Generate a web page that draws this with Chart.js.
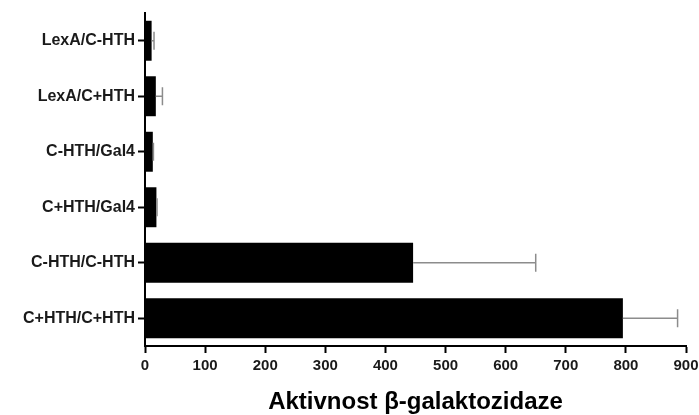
<!DOCTYPE html>
<html>
<head>
<meta charset="utf-8">
<script src="https://cdn.jsdelivr.net/npm/chart.js@4.4.1/dist/chart.umd.min.js"></script>
<style>
  html, body { margin: 0; padding: 0; background: #fff; }
  #wrap { width: 699px; height: 415px; }
</style>
</head>
<body>
<div id="wrap"><canvas id="chart"></canvas></div>
<script>
// ── Data ──
const categories = ['LexA/C-HTH', 'LexA/C+HTH', 'C-HTH/Gal4', 'C+HTH/Gal4', 'C-HTH/C-HTH', 'C+HTH/C+HTH'];
const means = [11, 18, 13, 19, 446, 795];
const errors = [4, 11, 1, 1, 204, 91];
const xTicks = [0, 100, 200, 300, 400, 500, 600, 700, 800, 900];
const xTitle = 'Aktivnost β-galaktozidaze';

const FONT = 'Arial, "Liberation Sans", Helvetica, sans-serif';

// Error bars (only the positive side, like Prism draws them)
const errorBars = {
  id: 'errorBars',
  afterDatasetsDraw(chart) {
    const { ctx, scales: { x, y } } = chart;
    ctx.save();
    ctx.strokeStyle = '#8c8c8c';
    ctx.lineWidth = 1.5;
    means.forEach((m, i) => {
      const cy = y.getPixelForValue(i);
      const x0 = x.getPixelForValue(m);
      const x1 = x.getPixelForValue(m + errors[i]);
      ctx.beginPath();
      ctx.moveTo(x0, cy); ctx.lineTo(x1, cy);
      ctx.moveTo(x1, cy - 9); ctx.lineTo(x1, cy + 9);
      ctx.stroke();
    });
    ctx.restore();
  }
};

new Chart(document.getElementById('chart'), {
  type: 'bar',
  data: {
    labels: categories,
    datasets: [{
      data: means,
      backgroundColor: '#000',
      borderWidth: 0,
      barPercentage: 0.72,
      categoryPercentage: 1
    }]
  },
  options: {
    indexAxis: 'y',
    responsive: true,
    maintainAspectRatio: false,
    animation: false,
    layout: { padding: { top: 13, right: 13, left: 0, bottom: 0 } },
    plugins: { legend: { display: false }, tooltip: { enabled: false } },
    scales: {
      x: {
        min: 0, max: 900,
        afterBuildTicks: s => { s.ticks = xTicks.map(v => ({ value: v })); },
        afterFit: s => { s.height = 69; s.paddingLeft = 0; s.paddingRight = 0; },
        border: { color: '#000', width: 2 },
        grid: { drawOnChartArea: false, drawTicks: true, tickLength: 7, tickColor: '#000', tickWidth: 2 },
        ticks: { color: '#1a1a1a', padding: 4, font: { family: FONT, size: 15, weight: 'bold' } },
        title: { display: true, text: xTitle, color: '#000', padding: { top: 4, bottom: -2 }, font: { family: FONT, size: 24, weight: 'bold' } }
      },
      y: {
        afterFit: s => { s.width = 145; },
        border: { color: '#000', width: 2 },
        grid: { offset: false, drawOnChartArea: false, drawTicks: true, tickLength: 7, tickColor: '#000', tickWidth: 2 },
        ticks: { color: '#1a1a1a', padding: 3, font: { family: FONT, size: 16, weight: 'bold' } }
      }
    }
  },
  plugins: [errorBars]
});
</script>
</body>
</html>
